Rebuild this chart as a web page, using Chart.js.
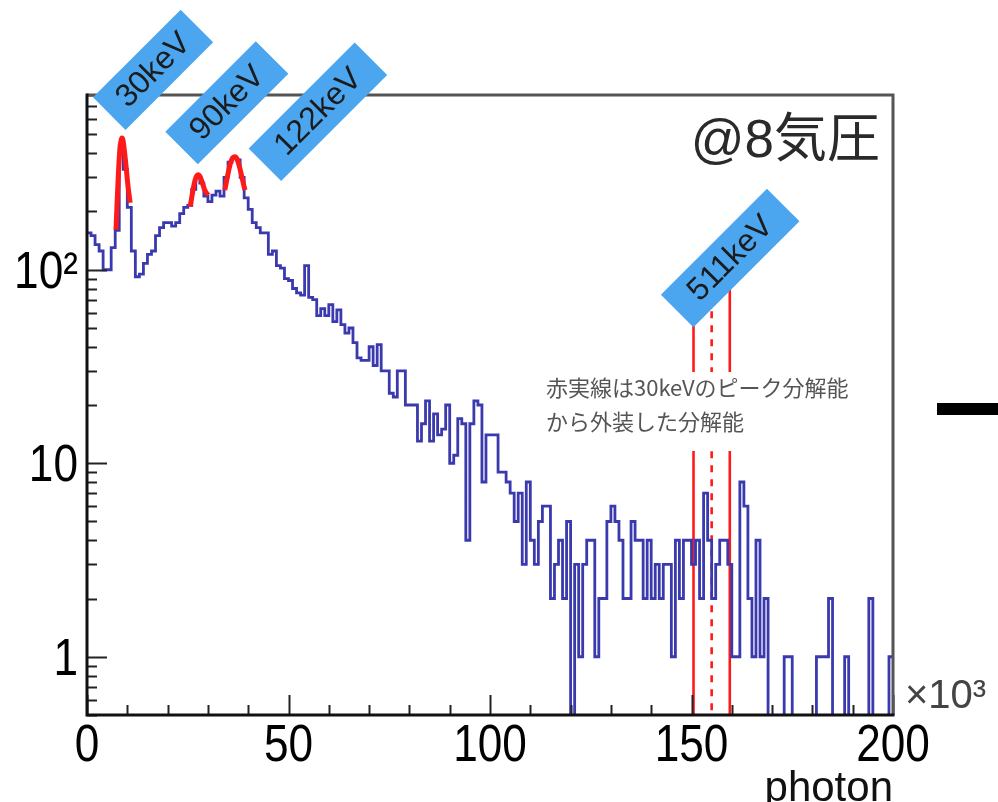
<!DOCTYPE html>
<html>
<head>
<meta charset="utf-8">
<script src="https://cdn.jsdelivr.net/npm/chart.js@4.4.0/dist/chart.umd.min.js"></script>
<style>
html, body { margin: 0; padding: 0; background: #fff; }
canvas { display: block; }
</style>
</head>
<body>
<canvas id="spec" width="998" height="802"></canvas>
<script>
// Photon-count spectrum at 8 atm: 200 bins of 1k photons, 0 to 200k.
const binWidth = 1; // x10^3 photons
const counts = [
  155, 150, 135, 125, 100, 100, 130, 160, 440, 330,
  210, 125, 92, 95, 108, 120, 125, 150, 165, 175,
  175, 168, 175, 195, 210, 215, 260, 300, 280, 240,
  225, 243, 255, 240, 300, 360, 380, 370, 300, 235,
  205, 175, 165, 155, 155, 120, 125, 105, 102, 90,
  88, 80, 76, 74, 105, 72, 70, 58, 63, 58,
  66, 54, 62, 52, 47, 50, 42, 35, 34, 34,
  40, 32, 41, 30, 30, 23, 22, 30, 30, 20,
  20, 20, 13, 16, 21, 13, 18, 14, 15, 20,
  10, 11, 17, 16, 4, 16, 21, 20, 8, 14,
  14, 14, 9, 9, 8, 7, 5, 7, 3, 8,
  4, 3, 5, 6, 6, 2, 3, 4, 2, 5,
  0, 3, 1, 3, 4, 4, 1, 2, 2, 5,
  6, 5, 4, 2, 2, 5, 4, 4, 2, 4,
  2, 3, 2, 3, 3, 1, 4, 2, 4, 4,
  3, 4, 2, 7, 4, 2, 3, 4, 4, 3,
  1, 1, 8, 6, 2, 1, 4, 1, 2, 0,
  0, 0, 0, 1, 1, 0, 0, 0, 0, 0,
  0, 1, 1, 1, 2, 0, 0, 0, 1, 0,
  0, 0, 0, 0, 2, 0, 0, 0, 0, 1
];

// Gaussian fits over the low-energy peaks (x in 10^3 photons, counts)
const fit30X  = [7.2, 7.5, 7.8, 8.1, 8.4, 8.6, 8.9, 9.3, 9.7, 10.2, 10.7];
const fit30Y  = [161, 230, 317, 403, 459, 479, 470, 408, 341, 268, 222];
const fit90X  = [25.6, 26.1, 26.6, 27.1, 27.6, 28.1, 28.6, 29.1, 29.6, 30.1];
const fit90Y  = [212, 244, 278, 302, 310, 302, 282, 262, 250, 243];
const fit122X = [34.2, 34.7, 35.2, 35.7, 36.2, 36.7, 37.2, 37.7, 38.2, 38.7, 39.2];
const fit122Y = [258, 292, 329, 362, 380, 384, 375, 349, 317, 285, 258];

// 511 keV expectation: centre (dashed) and resolution band (solid)
const band511X = [150.5, 155, 159.5];
const bandTop = 80;

const xTickValues = [0, 50, 100, 150, 200];
const xTickLabels = ['0', '50', '100', '150', '200'];
const yTickValues = [1, 10, 100];
const yTickLabels = ['1', '10', '10\u00B2'];
const peakNames = ['30keV', '90keV', '122keV', '511keV'];
const noteLines = ['赤実線は30keVのピーク分解能', 'から外装した分解能'];
const pressureText = '@8気圧';
const xExponent = '\u00D710\u00B3';

// empty bins fall below the axis floor so the outline drops out of the frame
const FLOOR = 0.1;
const histPoints = counts.map((c, i) => ({ x: i * binWidth, y: c > 0 ? c : FLOOR }));
histPoints.push({ x: counts.length * binWidth, y: counts[counts.length - 1] || FLOOR });

const zip = (xs, ys) => xs.map((v, i) => ({ x: v, y: ys[i] }));

const BLUE = '#3a3aae';
const RED = '#ff1a1a';
const TAG = '#4ba6ef';
const SANS = '"Liberation Sans", Arial, Helvetica, sans-serif';
const CJK = '"Noto Sans CJK JP", "Noto Sans", sans-serif';

const fitStyle = {
  borderColor: RED, borderWidth: 5, pointRadius: 0,
  cubicInterpolationMode: 'monotone', order: 0
};
const bandStyle = (dash) => ({
  borderColor: RED, borderWidth: 2.6, pointRadius: 0,
  borderDash: dash, order: 2
});

// tag anchors in data space, drawn rotated 45 degrees
const tags = [
  { text: peakNames[0], x: 16.4, y: 1080, len: 124, thick: 46 },
  { text: peakNames[1], x: 34.7, y: 730,  len: 128, thick: 46 },
  { text: peakNames[2], x: 57.3, y: 656,  len: 150, thick: 46 },
  { text: peakNames[3], x: 159.6, y: 115, len: 150, thick: 46 }
];

// tall, slightly condensed axis numerals
function condensedText(ctx, text, px, py, align, squeeze) {
  ctx.save();
  ctx.translate(px, py);
  ctx.scale(squeeze, 1);
  ctx.textAlign = align;
  ctx.fillText(text, 0, 0);
  ctx.restore();
}

const deco = {
  id: 'deco',
  beforeDatasetsDraw(chart) {
    const { ctx, scales: { x, y } } = chart;
    ctx.save();
    ctx.fillStyle = '#000';
    ctx.font = '52px ' + SANS;
    ctx.textBaseline = 'alphabetic';
    x.ticks.forEach(t => {
      const i = xTickValues.indexOf(t.value);
      condensedText(ctx, xTickLabels[i], x.getPixelForValue(t.value), 761, 'center', 0.85);
    });
    y.ticks.forEach(t => {
      const i = yTickValues.indexOf(t.value);
      condensedText(ctx, yTickLabels[i], 78, y.getPixelForValue(t.value) + 18, 'right', 0.85);
    });
    ctx.restore();
  },
  afterDatasetsDraw(chart) {
    const { ctx, chartArea: a, scales: { x, y } } = chart;
    ctx.save();

    // inward ticks
    ctx.strokeStyle = '#222';
    ctx.lineWidth = 2;
    ctx.beginPath();
    for (let v = 0; v <= 200; v += 10) {
      const px = Math.round(x.getPixelForValue(v)) + 0.5;
      const len = v % 50 === 0 ? 20 : 10;
      ctx.moveTo(px, a.bottom);
      ctx.lineTo(px, a.bottom - len);
    }
    for (let dec = 0.1; dec <= 100; dec *= 10) {
      for (let m = 1; m <= 9; m++) {
        const v = +(m * dec).toPrecision(3);
        if (v < y.min || v > y.max) continue;
        const py = Math.round(y.getPixelForValue(v)) + 0.5;
        const len = m === 1 ? 20 : 10;
        ctx.moveTo(a.left, py);
        ctx.lineTo(a.left + len, py);
      }
    }
    ctx.stroke();

    // frame
    ctx.lineWidth = 3;
    ctx.strokeStyle = '#555';
    ctx.beginPath();
    ctx.moveTo(a.left, a.top);
    ctx.lineTo(a.right, a.top);
    ctx.lineTo(a.right, a.bottom);
    ctx.stroke();
    ctx.strokeStyle = '#111';
    ctx.beginPath();
    ctx.moveTo(a.left, a.top - 1.5);
    ctx.lineTo(a.left, a.bottom);
    ctx.lineTo(a.right + 1.5, a.bottom);
    ctx.stroke();

    // note box over the band lines
    ctx.fillStyle = '#fff';
    ctx.fillRect(535, 372, 330, 79);
    ctx.fillStyle = '#555';
    ctx.font = '22px ' + CJK;
    ctx.textAlign = 'left';
    ctx.textBaseline = 'middle';
    ctx.fillText(noteLines[0], 546, 388);
    ctx.fillText(noteLines[1], 546, 422);

    // pressure label
    ctx.fillStyle = '#2a2a2a';
    ctx.font = '53px "Liberation Sans", "Noto Sans CJK JP", sans-serif';
    ctx.textAlign = 'right';
    ctx.textBaseline = 'middle';
    ctx.fillText(pressureText, 880, 142);

    // exponent of the x axis
    ctx.fillStyle = '#444';
    ctx.font = '40px ' + SANS;
    ctx.textAlign = 'left';
    ctx.textBaseline = 'alphabetic';
    ctx.fillText(xExponent, 905, 708);

    // peak tags
    tags.forEach(t => {
      const cx = x.getPixelForValue(t.x);
      const cy = y.getPixelForValue(t.y);
      ctx.save();
      ctx.translate(cx, cy);
      ctx.rotate(-Math.PI / 4);
      ctx.fillStyle = TAG;
      ctx.fillRect(-t.len / 2, -t.thick / 2, t.len, t.thick);
      ctx.fillStyle = '#1b1b1b';
      ctx.font = '32px ' + SANS;
      ctx.textAlign = 'center';
      ctx.textBaseline = 'middle';
      ctx.fillText(t.text, 0, 1);
      ctx.restore();
    });

    // dash at the right margin
    ctx.fillStyle = '#000';
    ctx.fillRect(937, 403, 61, 12);

    ctx.restore();
  }
};

new Chart(document.getElementById('spec'), {
  type: 'line',
  data: {
    datasets: [
      Object.assign({ data: zip(fit30X, fit30Y) }, fitStyle),
      Object.assign({ data: zip(fit90X, fit90Y) }, fitStyle),
      Object.assign({ data: zip(fit122X, fit122Y) }, fitStyle),
      {
        data: histPoints, stepped: 'before', borderColor: BLUE, borderWidth: 2.8,
        pointRadius: 0, order: 1, clip: { left: 2, top: 2, right: 2, bottom: 0 }
      },
      Object.assign({ data: [{ x: band511X[0], y: FLOOR }, { x: band511X[0], y: bandTop }] }, bandStyle([])),
      Object.assign({ data: [{ x: band511X[1], y: FLOOR }, { x: band511X[1], y: bandTop }] }, bandStyle([7, 7])),
      Object.assign({ data: [{ x: band511X[2], y: FLOOR }, { x: band511X[2], y: bandTop }] }, bandStyle([]))
    ]
  },
  options: {
    responsive: false,
    animation: false,
    devicePixelRatio: 1,
    layout: { padding: { top: 95, right: 105, left: 0, bottom: 0 } },
    plugins: { legend: { display: false }, tooltip: { enabled: false } },
    elements: { line: { tension: 0 } },
    scales: {
      x: {
        type: 'linear', min: 0, max: 200,
        afterFit: s => { s.height = 87; },
        afterBuildTicks: s => { s.ticks = xTickValues.map(v => ({ value: v })); },
        grid: { display: false }, border: { display: false },
        ticks: { display: false },
        title: {
          display: true, text: 'photon', align: 'end', color: '#111',
          font: { family: SANS, size: 42, lineHeight: 1 }, padding: { top: 0, bottom: -8 }
        }
      },
      y: {
        type: 'logarithmic', min: 0.5, max: 800,
        afterFit: s => { s.width = 87; },
        afterBuildTicks: s => { s.ticks = yTickValues.map(v => ({ value: v })); },
        grid: { display: false }, border: { display: false },
        ticks: { display: false }
      }
    }
  },
  plugins: [deco]
});
</script>
</body>
</html>
